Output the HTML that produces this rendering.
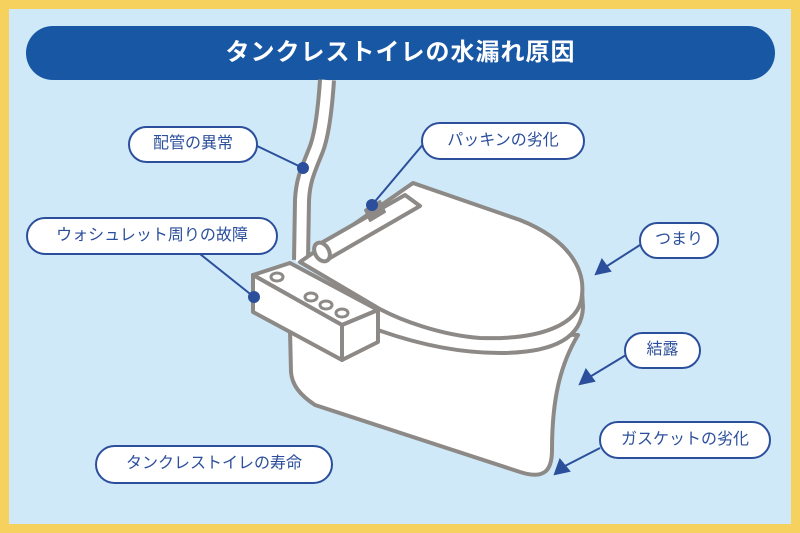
<!DOCTYPE html>
<html><head><meta charset="utf-8"><style>
html,body{margin:0;padding:0;}
body{width:800px;height:533px;overflow:hidden;background:#f6d15e;position:relative;font-family:"Liberation Sans","Noto Sans CJK JP",sans-serif;}
.inner{position:absolute;left:9px;top:9px;width:782px;height:515px;background:#cfe9f9;}
.title{position:absolute;left:26px;top:26px;width:749px;height:54px;border-radius:27px;background:#1857a4;color:#fff;font-size:24px;font-weight:bold;text-align:center;line-height:54px;letter-spacing:1px;}
.pill{position:absolute;box-sizing:border-box;border:2.5px solid #2c4f9c;border-radius:20px;background:#fff;color:#2c4f9c;font-size:16px;text-align:center;font-weight:normal;}
svg{position:absolute;left:0;top:0;}
</style></head><body>
<div class="inner"></div>
<div class="title">タンクレストイレの水漏れ原因</div>
<svg width="800" height="533" viewBox="0 0 800 533">
<g stroke="#8c8986" stroke-width="4" stroke-linejoin="round" fill="#fff">
<path d="M327,80 C325,110 322,135 316,150 C308,170 303,180 302,200 L301,260" stroke="#8c8986" stroke-width="18" fill="none"/>
<path d="M327,80 C325,110 322,135 316,150 C308,170 303,180 302,200 L301,262" stroke="#fff" stroke-width="10" fill="none"/>
<!-- bowl -->
<path d="M290,330 L291,372 C292,385 300,395 315,405 L520,472 C545,480 552,470 552,450 C552,400 560,365 578,335 L378,330 Z"/>
<!-- rim -->
<path d="M378,300 L378,330 C420,345 460,353 500,353 C555,353 582,337 583,307 L582,290 Z"/>
<!-- lid -->
<path d="M413,183 L520,220 C570,240 585,270 582,295 C580,325 540,340 480,338 C440,335 400,320 378,308 L300,262 Z"/>
<!-- hinge bar -->
<path d="M316,246 L405,195 L420,206 L330,258 Z"/>
<ellipse cx="322" cy="252" rx="7" ry="10" transform="rotate(-30 322 252)"/>
<path d="M365,210 L380,201 L385,212 L370,221 Z" fill="#8c8986" stroke-width="2"/>
<!-- control box -->
<path d="M253,275 L290,263 L378,310 L342,325 Z"/>
<path d="M253,275 L342,325 L342,360 L253,312 Z"/>
<path d="M342,325 L378,310 L378,342 L342,360 Z"/>
<g stroke-width="3"><ellipse cx="277" cy="277" rx="6" ry="4"/><ellipse cx="311" cy="297" rx="6" ry="4"/><ellipse cx="326" cy="305" rx="6" ry="4"/><ellipse cx="342" cy="313" rx="6" ry="4"/></g>
</g>
<g stroke="#2c4f9c" stroke-width="2" fill="#2c4f9c">
<line x1="255" y1="145" x2="303" y2="168"/><circle cx="303" cy="168" r="5"/>
<line x1="425" y1="142" x2="372" y2="205"/><circle cx="372" cy="205" r="5"/>
<line x1="200" y1="254" x2="254" y2="297"/><circle cx="254" cy="297" r="5"/>
<line x1="640" y1="245" x2="604" y2="268"/><path d="M596,274 L602,260 L610,271 Z"/>
<line x1="626" y1="355" x2="588" y2="378"/><path d="M580,384 L586,370 L594,381 Z"/>
<line x1="600" y1="448" x2="563" y2="467"/><path d="M555,474 L560,460 L569,471 Z"/>
</g>
</svg>
<div class="pill" style="left:128px;top:126px;width:130px;height:37px;line-height:32px;">配管の異常</div>
<div class="pill" style="left:421px;top:122px;width:164px;height:38px;line-height:33px;">パッキンの劣化</div>
<div class="pill" style="left:26px;top:217px;width:252px;height:38px;line-height:33px;">ウォシュレット周りの故障</div>
<div class="pill" style="left:639px;top:222px;width:80px;height:37px;line-height:32px;">つまり</div>
<div class="pill" style="left:624px;top:332px;width:77px;height:37px;line-height:32px;">結露</div>
<div class="pill" style="left:599px;top:421px;width:172px;height:38px;line-height:33px;">ガスケットの劣化</div>
<div class="pill" style="left:95px;top:445px;width:238px;height:39px;line-height:34px;">タンクレストイレの寿命</div>
</body></html>
